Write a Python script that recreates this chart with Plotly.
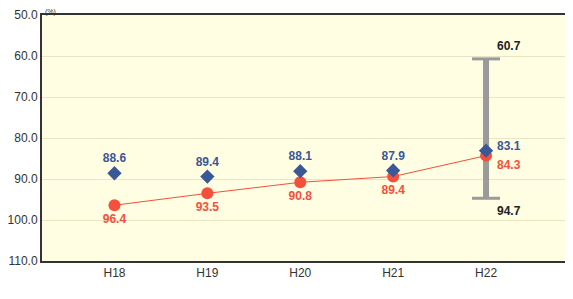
import plotly.graph_objects as go

categories = ["H18", "H19", "H20", "H21", "H22"]
blue_values = [88.6, 89.4, 88.1, 87.9, 83.1]
red_values = [96.4, 93.5, 90.8, 89.4, 84.3]
range_cat = "H22"
range_min = 60.7
range_max = 94.7
y_ticks = [50, 60, 70, 80, 90, 100, 110]

BLUE = "#3b5896"
RED = "#f4503c"
FONT = "Liberation Sans, Arial, sans-serif"
LBL = dict(family=FONT, size=12, weight="bold")

fig = go.Figure()

# range bar
fig.add_trace(go.Scatter(
    x=[range_cat, range_cat], y=[range_min, range_max],
    mode="lines+markers",
    line=dict(color="#9a9a9a", width=6),
    marker=dict(symbol="line-ew-open", size=20, line=dict(color="#3a3a3a", width=3)),
    hoverinfo="skip", showlegend=False, cliponaxis=False,
))

n = len(categories) - 1
# red series
fig.add_trace(go.Scatter(
    x=categories, y=red_values, mode="lines+markers+text",
    line=dict(color=RED, width=1),
    marker=dict(symbol="circle", size=12, color=RED),
    text=[f"{v:.1f}" for v in red_values[:n]] + [""],
    textposition="bottom center",
    textfont=dict(LBL, color=RED),
    showlegend=False, cliponaxis=False,
))

# blue series
fig.add_trace(go.Scatter(
    x=categories, y=blue_values, mode="markers+text",
    marker=dict(symbol="diamond", size=11, color=BLUE),
    text=[f"{v:.1f}" for v in blue_values[:n]] + [""],
    textposition="top center",
    textfont=dict(LBL, color=BLUE),
    showlegend=False, cliponaxis=False,
))

annotations = [
    dict(text="(%)", xref="paper", yref="paper", x=0.0, y=1.0,
         xanchor="left", yanchor="bottom", showarrow=False,
         font=dict(size=7, color="#333333"), xshift=1, yshift=-3),
    dict(text=f"{range_min:.1f}", x=range_cat, y=range_min, xanchor="left",
         yanchor="bottom", xshift=9, yshift=4, showarrow=False,
         font=dict(LBL, color="#222222")),
    dict(text=f"{range_max:.1f}", x=range_cat, y=range_max, xanchor="left",
         yanchor="top", xshift=9, yshift=-4, showarrow=False,
         font=dict(LBL, color="#222222")),
    dict(text=f"{blue_values[-1]:.1f}", x=categories[-1], y=blue_values[-1],
         xanchor="left", yanchor="middle", xshift=9, yshift=5, showarrow=False,
         font=dict(LBL, color=BLUE)),
    dict(text=f"{red_values[-1]:.1f}", x=categories[-1], y=red_values[-1],
         xanchor="left", yanchor="middle", xshift=9, yshift=-9, showarrow=False,
         font=dict(LBL, color=RED)),
]

# page body has an 8px default margin; keep the figure inside the window
fig.update_layout(
    width=557, height=275,
    margin=dict(l=34, r=0, t=7, b=22),
    paper_bgcolor="white",
    plot_bgcolor="#fffde2",
    font=dict(family=FONT, size=12, color="#333333"),
    xaxis=dict(
        type="category", categoryorder="array", categoryarray=categories,
        range=[-0.78, 4.85], automargin=False,
        showline=True, linecolor="#333333", linewidth=2, mirror=True,
        showgrid=False, ticks="", tickfont=dict(size=12, color="#333333"),
    ),
    yaxis=dict(
        range=[110, 50], tickvals=y_ticks, automargin=False,
        ticktext=[f"{v:.1f}" for v in y_ticks],
        showline=True, linecolor="#333333", linewidth=2,
        showgrid=True, gridcolor="#e8e4c4", gridwidth=1,
        ticks="", zeroline=False, tickfont=dict(size=12, color="#333333"),
    ),
    annotations=annotations,
)

fig.write_html("out.html")
